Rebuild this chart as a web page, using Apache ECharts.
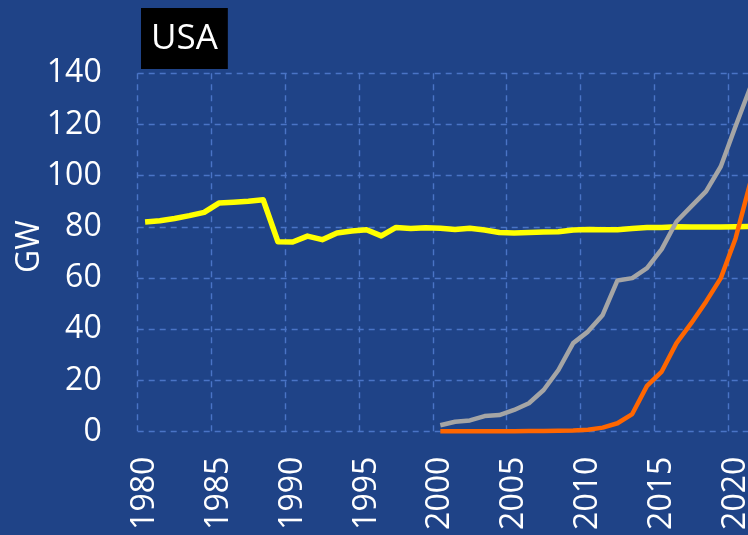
<!DOCTYPE html>
<html>
<head>
<meta charset="utf-8">
<script src="https://cdn.jsdelivr.net/npm/echarts@6/dist/echarts.min.js"></script>
<style>
html,body{margin:0;padding:0;background:#1F4387;}
#chart{width:748px;height:535px;}
</style>
</head>
<body>
<div id="chart"></div>
<script>
const years = [];
for (let y = 1980; y <= 2021; y++) years.push(String(y));

const nuclear = [81.9, 82.4, 83.3, 84.4, 85.7, 89.3, 89.6, 90.0, 90.6, 74.2,
  74.1, 76.4, 75.0, 77.6, 78.4, 78.9, 76.5, 79.8, 79.4, 79.7,
  79.5, 79.0, 79.5, 78.8, 77.8, 77.6, 77.8, 78.0, 78.1, 78.8,
  79.0, 78.9, 78.9, 79.4, 79.8, 79.8, 80.1, 80.0, 80.0, 80.0,
  80.1, 80.2];

const wind = [null, null, null, null, null, null, null, null, null, null,
  null, null, null, null, null, null, null, null, null, null,
  2.5, 3.9, 4.4, 6.1, 6.5, 8.5, 11.1, 16.3, 24.1, 34.6,
  39.1, 45.6, 59.1, 60.0, 63.9, 71.3, 82.1, 88.0, 93.9, 103.6,
  119.3, 134.5];

const solar = [null, null, null, null, null, null, null, null, null, null,
  null, null, null, null, null, null, null, null, null, null,
  0.2, 0.2, 0.2, 0.2, 0.2, 0.2, 0.3, 0.3, 0.4, 0.5,
  0.8, 1.6, 3.3, 6.9, 17.9, 23.5, 34.6, 42.4, 50.8, 60.0,
  75.5, 97.3];

const yTicks = { min: 0, max: 140, interval: 20 };
const FONT = '"Open Sans", "Noto Sans", sans-serif';
const gridColor = '#4A74C6';

const chart = echarts.init(document.getElementById('chart'), null, { renderer: 'canvas' });
chart.setOption({
  backgroundColor: '#1F4387',
  animation: false,
  title: {
    text: 'USA',
    left: 141, top: 8,
    backgroundColor: '#000000',
    padding: [11, 10, 10, 10],
    textStyle: { color: '#ffffff', fontSize: 35, fontWeight: 'normal', fontFamily: FONT, lineHeight: 40 }
  },
  grid: { left: 137.7, top: 73.3, bottom: 103.3, width: 620, containLabel: false, outerBoundsMode: 'none' },
  xAxis: {
    type: 'category',
    data: years,
    boundaryGap: true,
    axisLine: { show: false },
    axisTick: { show: false },
    axisLabel: {
      interval: 4, rotate: 90, margin: 25,
      color: '#ffffff', fontSize: 32, fontFamily: FONT
    },
    splitLine: { show: true, interval: 4, lineStyle: { color: gridColor, width: 1.4, type: [6, 5] } }
  },
  yAxis: {
    type: 'value',
    min: yTicks.min, max: yTicks.max, interval: yTicks.interval,
    name: 'GW', nameLocation: 'middle', nameGap: 92, nameMoveOverlap: false,
    nameTextStyle: { color: '#ffffff', fontSize: 32, fontFamily: FONT, padding: [0, 0, 0, 12] },
    axisLine: { show: false },
    axisTick: { show: false },
    axisLabel: { margin: 36, color: '#ffffff', fontSize: 32, fontFamily: FONT },
    splitLine: { show: true, lineStyle: { color: gridColor, width: 1.4, type: [6, 5] } }
  },
  series: [
    { name: 'Nuclear', type: 'line', data: nuclear, showSymbol: false, symbol: 'none',
      lineStyle: { color: '#FFFF00', width: 5.5, join: 'round' }, z: 3 },
    { name: 'Wind', type: 'line', data: wind, showSymbol: false, symbol: 'none',
      lineStyle: { color: '#A5A5A5', width: 4.5, join: 'round' }, z: 4 },
    { name: 'Solar', type: 'line', data: solar, showSymbol: false, symbol: 'none',
      lineStyle: { color: '#FF6600', width: 4.5, join: 'round' }, z: 5 }
  ]
});
</script>
</body>
</html>
